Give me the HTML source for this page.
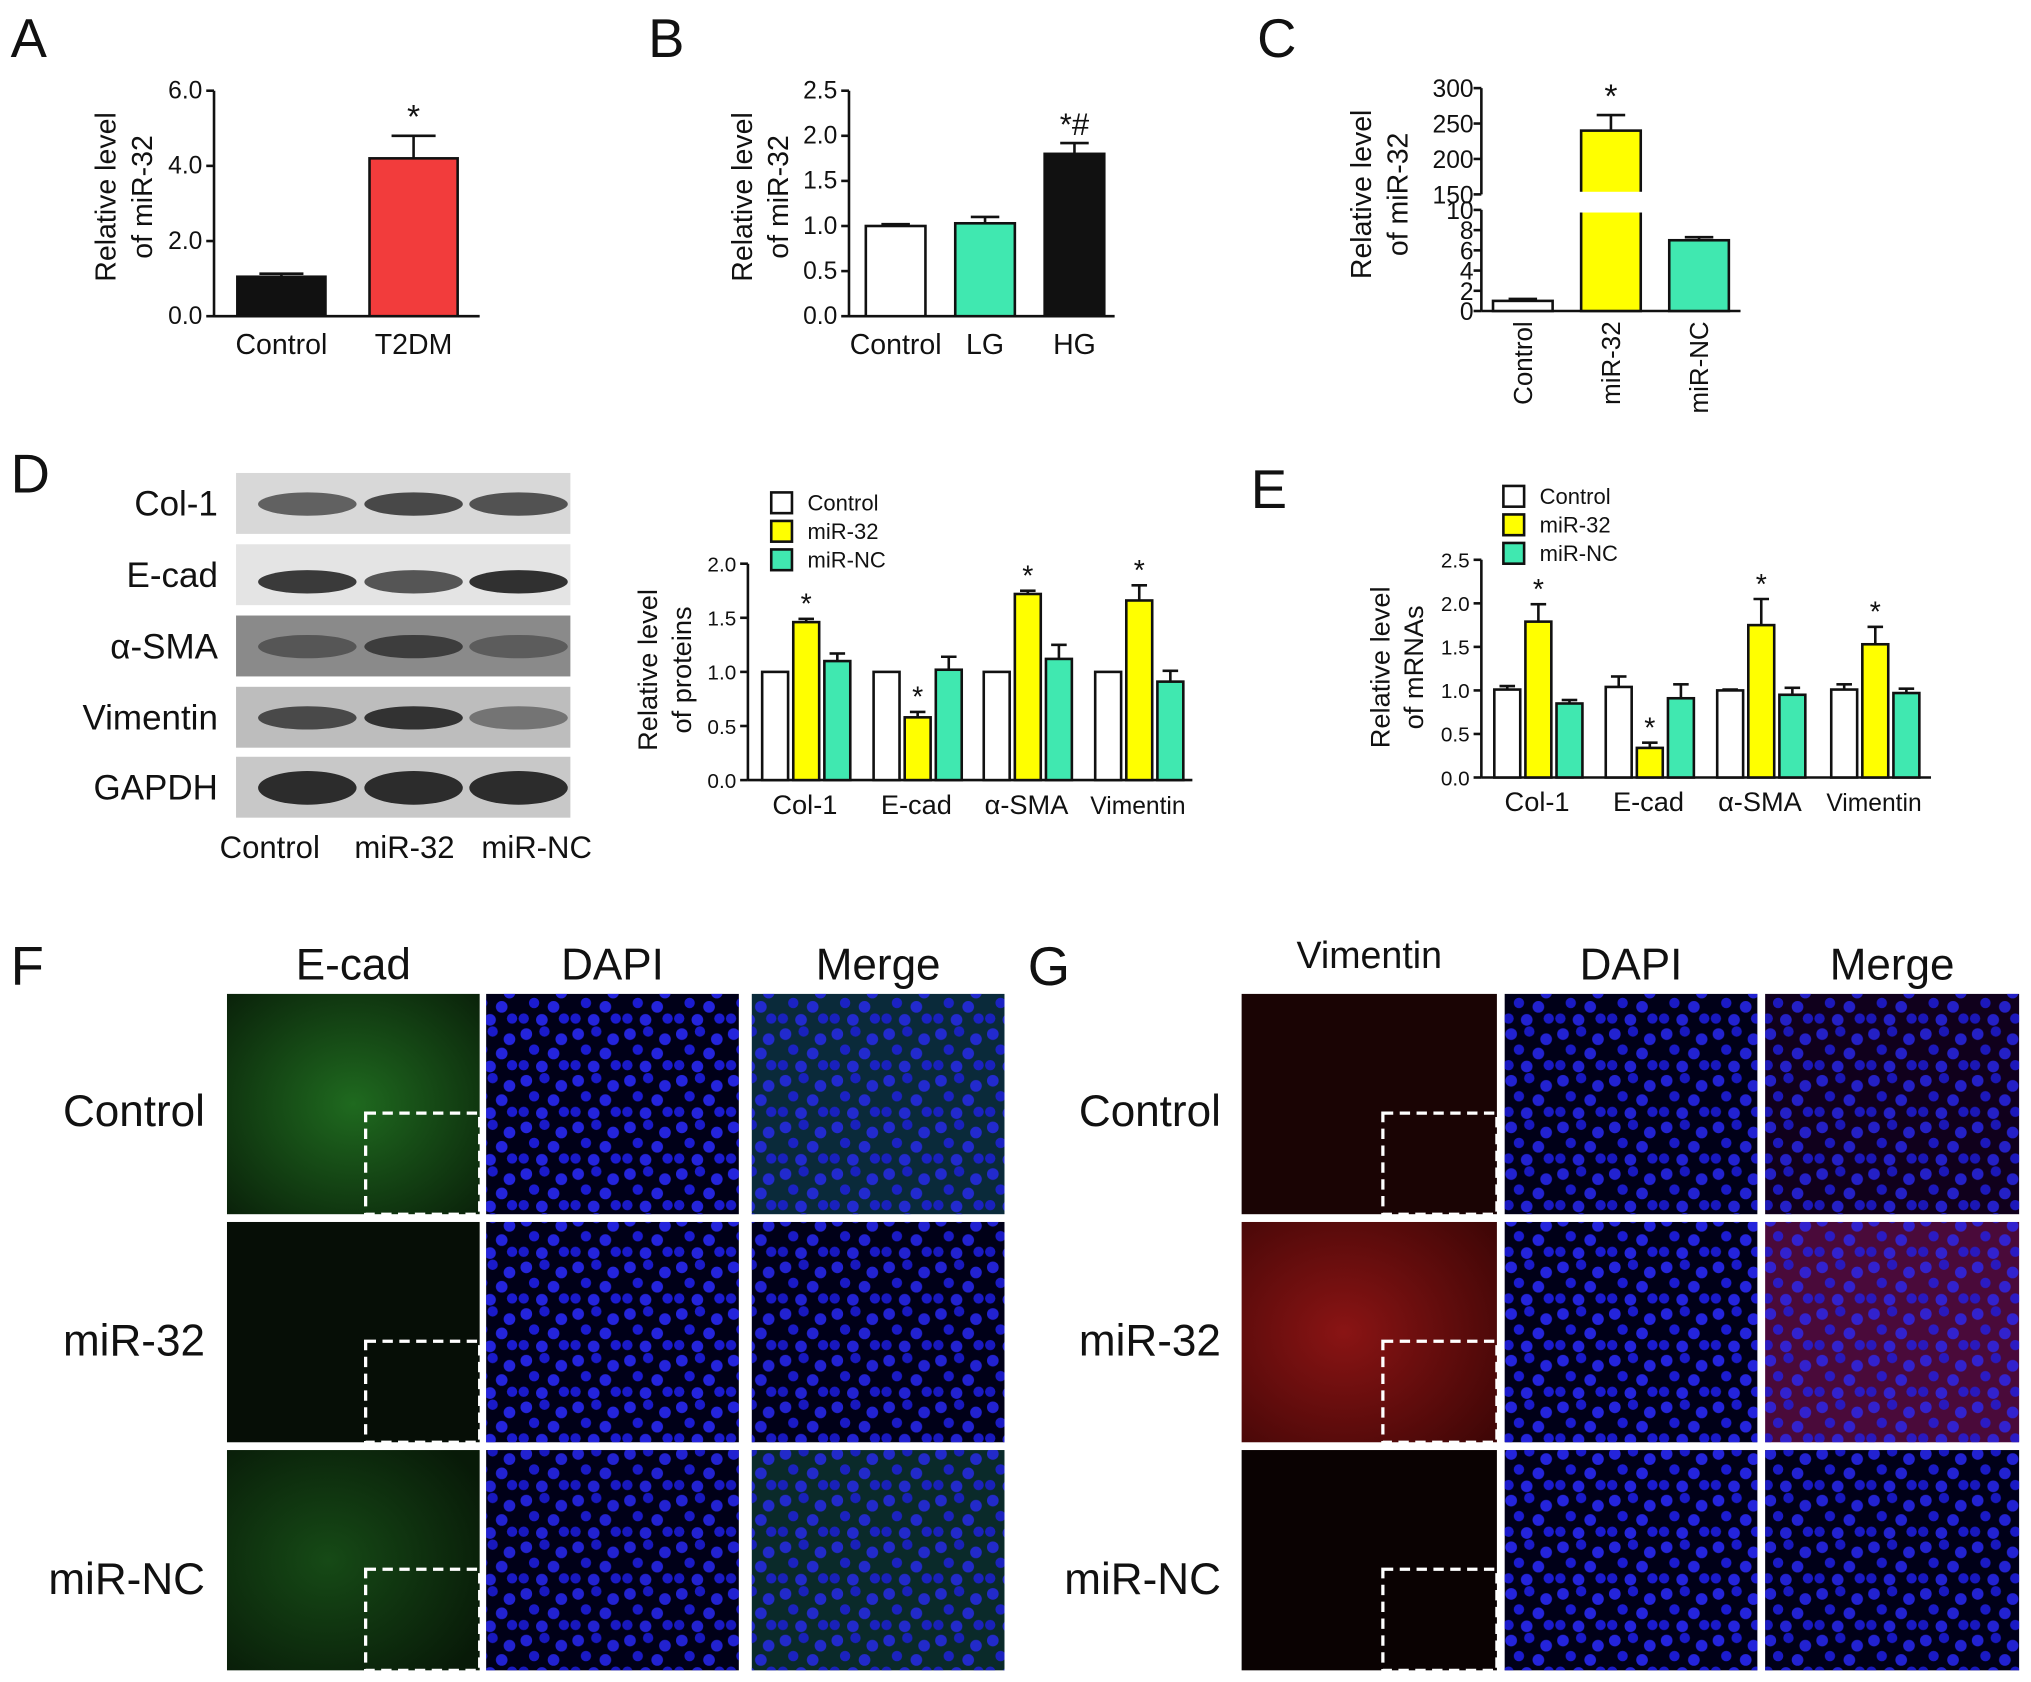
<!DOCTYPE html>
<html><head><meta charset="utf-8"><style>
html,body{margin:0;padding:0;background:#fff;width:2031px;height:1682px;overflow:hidden}
svg{display:block}
text{font-family:"Liberation Sans",sans-serif;fill:#111}
</style></head><body>
<svg id="fig" width="2031" height="1682" viewBox="0 0 1567 1298" xmlns="http://www.w3.org/2000/svg">
<defs>
<pattern id="nuc" width="40" height="36" patternUnits="userSpaceOnUse">
<circle cx="6" cy="6" r="4.5" fill="#2a2aff"/><circle cx="20" cy="4" r="4" fill="#1e1ee8"/><circle cx="33" cy="10" r="4.5" fill="#2a2aff"/>
<circle cx="12" cy="18" r="4" fill="#2020f0"/><circle cx="27" cy="21" r="4.5" fill="#2a2aff"/><circle cx="4" cy="30" r="4" fill="#1e1ee8"/>
<circle cx="18" cy="31" r="4.5" fill="#2a2aff"/><circle cx="35" cy="30" r="4" fill="#2020f0"/>
</pattern>
<radialGradient id="gctl" cx="0.5" cy="0.5" r="0.7"><stop offset="0" stop-color="#1f6a1f"/><stop offset="1" stop-color="#0a220a"/></radialGradient>
<radialGradient id="gnc" cx="0.4" cy="0.5" r="0.7"><stop offset="0" stop-color="#164a16"/><stop offset="1" stop-color="#081a08"/></radialGradient>
<radialGradient id="rm" cx="0.4" cy="0.5" r="0.8"><stop offset="0" stop-color="#8a1414"/><stop offset="1" stop-color="#3a0505"/></radialGradient>
</defs>
<g id="root"></g>
</svg>
<script>
// ---- data ----
const aCats=["Control","T2DM"];
const aVals=[1.05,4.2];
const aErr=[0.08,0.6];
const aTicks=["0.0","2.0","4.0","6.0"];
const bCats=["Control","LG","HG"];
const bVals=[1.0,1.03,1.8];
const bErr=[0.02,0.07,0.12];
const bTicks=["0.0","0.5","1.0","1.5","2.0","2.5"];
const cCats=["Control","miR-32","miR-NC"];
const cVals=[1.0,240,7.0];
const cErr=[0.2,22,0.3];
const cTicksLow=["0","2","4","6","8","10"];
const cTicksHigh=["150","200","250","300"];
const groups=["Col-1","E-cad","α-SMA","Vimentin"];
const series=["Control","miR-32","miR-NC"];
const dCtl=[1,1,1,1];
const dMir=[1.46,0.58,1.72,1.66];
const dNc=[1.1,1.02,1.12,0.91];
const dCtlE=[0,0,0,0];
const dMirE=[0.03,0.05,0.03,0.14];
const dNcE=[0.07,0.12,0.13,0.1];
const dTicks=["0.0","0.5","1.0","1.5","2.0"];
const eCtl=[1.01,1.04,1.0,1.01];
const eMir=[1.79,0.34,1.75,1.53];
const eNc=[0.85,0.91,0.95,0.97];
const eCtlE=[0.04,0.12,0.01,0.06];
const eMirE=[0.2,0.06,0.3,0.2];
const eNcE=[0.04,0.16,0.08,0.05];
const eTicks=["0.0","0.5","1.0","1.5","2.0","2.5"];

const NS="http://www.w3.org/2000/svg";
const root=document.getElementById('root');
function el(tag,attrs,parent,txt){const e=document.createElementNS(NS,tag);for(const k in attrs)e.setAttribute(k,attrs[k]);if(txt!==undefined)e.textContent=txt;(parent||root).appendChild(e);return e;}
function grp(name){const g=el('g',{});return g;}
function txt(g,x,y,s,size,anchor,name,extra){const t=el('text',Object.assign({x:x,y:y,'font-size':size,'text-anchor':anchor||'start'},extra||{}),g,s);return t;}
function bar(g,x,w,y0,y1,fill,name){const r=el('rect',{x:x,y:Math.min(y0,y1),width:w,height:Math.abs(y0-y1),fill:fill,stroke:'#111','stroke-width':2},g);return r;}
function err(g,cx,yv,ye,w){el('line',{x1:cx,x2:cx,y1:yv,y2:ye,stroke:'#111','stroke-width':2},g);el('line',{x1:cx-w,x2:cx+w,y1:ye,y2:ye,stroke:'#111','stroke-width':2},g);}
function axisY(g,x,yb,yt,ticks,maxV,size){el('line',{x1:x,x2:x,y1:yb,y2:yt,stroke:'#111','stroke-width':2},g);
 ticks.forEach((t,i)=>{const y=yb-(yb-yt)*i/(ticks.length-1);el('line',{x1:x-6,x2:x,y1:y,y2:y,stroke:'#111','stroke-width':2},g);txt(g,x-9,y+6,t,size,'end','y-tick-label');});}
const panelLetter=(x,y,s)=>txt(root,x,y,s,42,'start','panel-label-'+s.toLowerCase());

// ---- Panel A ----
panelLetter(8,44,'A');
(function(){const g=grp('panel-a-chart');const X0=165,X1=370,Y0=244,YT=70,mx=6;
 const sy=v=>Y0-(Y0-YT)*v/mx;
 axisY(g,X0,Y0,YT,aTicks,mx,19);
 el('line',{x1:X0,x2:X1,y1:Y0,y2:Y0,stroke:'#111','stroke-width':2},g);
 const cols=['#111','#f23c3c'];const cx=[217,319];
 aCats.forEach((c,i)=>{bar(g,cx[i]-34,68,Y0,sy(aVals[i]),cols[i],'bar-'+c.toLowerCase());err(g,cx[i],sy(aVals[i]),sy(aVals[i]+aErr[i]),17);
  txt(g,cx[i],273,c,22,'middle','x-tick-label');});
 txt(g,cx[1],sy(aVals[1]+aErr[1])-6,'*',26,'middle','significance-marker');
 txt(g,0,0,'Relative level',22,'middle','y-axis-title',{transform:'translate(89,152) rotate(-90)'});
 txt(g,0,0,'of miR-32',22,'middle','y-axis-title',{transform:'translate(117,152) rotate(-90)'});
})();

// ---- Panel B ----
panelLetter(500,44,'B');
(function(){const g=grp('panel-b-chart');const X0=655,X1=860,Y0=244,YT=70,mx=2.5;
 const sy=v=>Y0-(Y0-YT)*v/mx;
 axisY(g,X0,Y0,YT,bTicks,mx,19);
 el('line',{x1:X0,x2:X1,y1:Y0,y2:Y0,stroke:'#111','stroke-width':2},g);
 const cols=['#fff','#40e8b0','#111'];const cx=[691,760,829];
 bCats.forEach((c,i)=>{bar(g,cx[i]-23,46,Y0,sy(bVals[i]),cols[i],'bar-'+c.toLowerCase());err(g,cx[i],sy(bVals[i]),sy(bVals[i]+bErr[i]),11);
  txt(g,cx[i],273,c,22,'middle','x-tick-label');});
 txt(g,cx[2],sy(bVals[2]+bErr[2])-6,'*#',24,'middle','significance-marker');
 txt(g,0,0,'Relative level',22,'middle','y-axis-title',{transform:'translate(580,152) rotate(-90)'});
 txt(g,0,0,'of miR-32',22,'middle','y-axis-title',{transform:'translate(608,152) rotate(-90)'});
})();

// ---- Panel C ----
panelLetter(970,44,'C');
(function(){const g=grp('panel-c-chart');const X0=1143,X1=1343,Y0=240,YL=162,YH=150,YT=68;
 const sy=v=>v<=10?Y0-(Y0-YL)*v/10:YH-(YH-YT)*(v-150)/150;
 el('line',{x1:X0,x2:X0,y1:Y0,y2:YL,stroke:'#111','stroke-width':2},g);
 el('line',{x1:X0,x2:X0,y1:YH,y2:YT,stroke:'#111','stroke-width':2},g);
 cTicksLow.forEach((t,i)=>{const y=Y0-(Y0-YL)*i/5;el('line',{x1:X0-6,x2:X0,y1:y,y2:y,stroke:'#111','stroke-width':2},g);txt(g,X0-6,y+7,t,19,'end','y-tick-label');});
 cTicksHigh.forEach((t,i)=>{const y=YH-(YH-YT)*i/3;el('line',{x1:X0-6,x2:X0,y1:y,y2:y,stroke:'#111','stroke-width':2},g);txt(g,X0-6,y+7,t,19,'end','y-tick-label');});
 el('line',{x1:X0,x2:X1,y1:Y0,y2:Y0,stroke:'#111','stroke-width':2},g);
 const cols=['#fff','#ffff00','#40e8b0'];const cx=[1175,1243,1311];
 cCats.forEach((c,i)=>{bar(g,cx[i]-23,46,Y0,sy(cVals[i]),cols[i],'bar-'+c.toLowerCase());err(g,cx[i],sy(cVals[i]),sy(cVals[i]+cErr[i]),11);
  txt(g,0,0,c,20,'end','x-tick-label',{transform:'translate('+(cx[i]+7)+',248) rotate(-90)'});});
 const br=el('rect',{x:cx[1]-26,y:YH-2,width:52,height:YL-YH+4,fill:'#fff'},g);
 txt(g,cx[1],sy(cVals[1]+cErr[1])-6,'*',26,'middle','significance-marker');
 txt(g,0,0,'Relative level',22,'middle','y-axis-title',{transform:'translate(1058,150) rotate(-90)'});
 txt(g,0,0,'of miR-32',22,'middle','y-axis-title',{transform:'translate(1086,150) rotate(-90)'});
})();

// ---- Panel D western blot ----
panelLetter(8,380,'D');
(function(){const g=grp('western-blot');const rows=['Col-1','E-cad','α-SMA','Vimentin','GAPDH'];const ys=[365,420,475,530,584];
 const bg=['#d8d8d8','#e4e4e4','#8a8a8a','#bdbdbd','#c8c8c8'];
 const bands=[[0.7,0.85,0.8],[0.95,0.8,1],[0.5,0.75,0.45],[0.8,0.95,0.5],[1,1,1]];
 const lanes=[237,319,400];
 rows.forEach((r,i)=>{const rc=el('rect',{x:182,y:ys[i],width:258,height:47,fill:bg[i]},g);
  lanes.forEach((lx,j)=>{const a=bands[i][j];el('ellipse',{cx:lx,cy:ys[i]+(i==1?29:24),rx:38,ry:i==4?13:9,fill:'#111','fill-opacity':a*0.85},g);});
  txt(g,168,ys[i]+33,r,27,'end','blot-label');});
 ['Control','miR-32','miR-NC'].forEach((c,j)=>txt(g,[208,312,414][j],662,c,24,'middle','lane-label'));
})();

function grouped(name,X0,X1,Y0,YT,mx,ticks,gcx,A,Ae,B,Be,C,Ce,legX,legY,titleX,title2){
 const g=grp(name);const sy=v=>Y0-(Y0-YT)*v/mx;
 axisY(g,X0,Y0,YT,ticks,mx,16);
 el('line',{x1:X0,x2:X1,y1:Y0,y2:Y0,stroke:'#111','stroke-width':2},g);
 const cols=['#fff','#ffff00','#40e8b0'];const sets=[[A,Ae],[B,Be],[C,Ce]];
 groups.forEach((gr,k)=>{sets.forEach((s,j)=>{const x=gcx[k]-33+j*24;const v=s[0][k];bar(g,x,20,Y0,sy(v),cols[j],'bar-'+gr.toLowerCase()+'-'+series[j].toLowerCase());
   if(s[1][k]>0)err(g,x+10,sy(v),sy(v+s[1][k]),6);
   if(j==1)txt(g,x+10,sy(v+s[1][k])-4,'*',22,'middle','significance-marker');});
  txt(g,gcx[k],Y0+26,gr,gr=='Vimentin'?19:21,'middle','x-tick-label');});
 series.forEach((s,j)=>{const r=el('rect',{x:legX,y:legY+j*22,width:16,height:16,fill:cols[j],stroke:'#111','stroke-width':2},g);
  txt(g,legX+28,legY+j*22+14,s,17,'start','legend-entry');});
 txt(g,0,0,'Relative level',21,'middle','y-axis-title',{transform:'translate('+titleX+','+(Y0-85)+') rotate(-90)'});
 txt(g,0,0,title2,21,'middle','y-axis-title',{transform:'translate('+(titleX+26)+','+(Y0-85)+') rotate(-90)'});
}
grouped('panel-d-chart',577,920,602,435,2,dTicks,[621,707,792,878],dCtl,dCtlE,dMir,dMirE,dNc,dNcE,595,380,507,'of proteins');
panelLetter(965,392,'E');
grouped('panel-e-chart',1143,1490,600,432,2.5,eTicks,[1186,1272,1358,1446],eCtl,eCtlE,eMir,eMirE,eNc,eNcE,1160,375,1072,'of mRNAs');

// ---- Fluorescence panels ----
function fluo(name,colsX,widths,rowsY,h,fills,labels,labelX,labelY,heads,headSizes,headY,letter,lx){
 const g=grp(name);panelLetter(lx,760,letter);
 heads.forEach((t,j)=>txt(g,colsX[j]+widths[j]/2,headY[j],t,headSizes[j],'middle','column-header'));
 rowsY.forEach((y,i)=>{txt(g,labelX,labelY[i],labels[i],34,'end','row-label');
  colsX.forEach((x,j)=>{const f=fills[i][j];const r=el('rect',{x:x,y:y,width:widths[j],height:h,fill:f[0]},g);
   if(f[1]){el('rect',{x:x,y:y,width:widths[j],height:h,fill:'url(#nuc)',opacity:f[1]},g);}
   if(j==0){const d=el('rect',{x:x+widths[j]-88,y:y+h-78,width:88,height:78,fill:'none',stroke:'#fff','stroke-width':2.5,'stroke-dasharray':'8 5'},g);}
  });});
}
fluo('panel-f-micrographs',[175,375,580],[195,195,195],[767,943,1119],170,
 [[['url(#gctl)',0],['#000018',0.85],['#0a2a3a',0.75]],[['#060e06',0],['#000018',0.85],['#000018',0.8]],[['url(#gnc)',0],['#000018',0.8],['#0a2a2a',0.75]]],
 ['Control','miR-32','miR-NC'],158,[869,1046,1230],['E-cad','DAPI','Merge'],[34,34,34],[756,756,756],'F',8);
fluo('panel-g-micrographs',[958,1161,1362],[197,195,196],[767,943,1119],170,
 [[['#1a0404',0],['#000018',0.8],['#10001c',0.75]],[['url(#rm)',0],['#000018',0.85],['#4a0a3a',0.75]],[['#0a0202',0],['#000018',0.85],['#000018',0.8]]],
 ['Control','miR-32','miR-NC'],942,[869,1046,1230],['Vimentin','DAPI','Merge'],[29,34,34],[747,756,756],'G',793);
</script>
</body></html>
